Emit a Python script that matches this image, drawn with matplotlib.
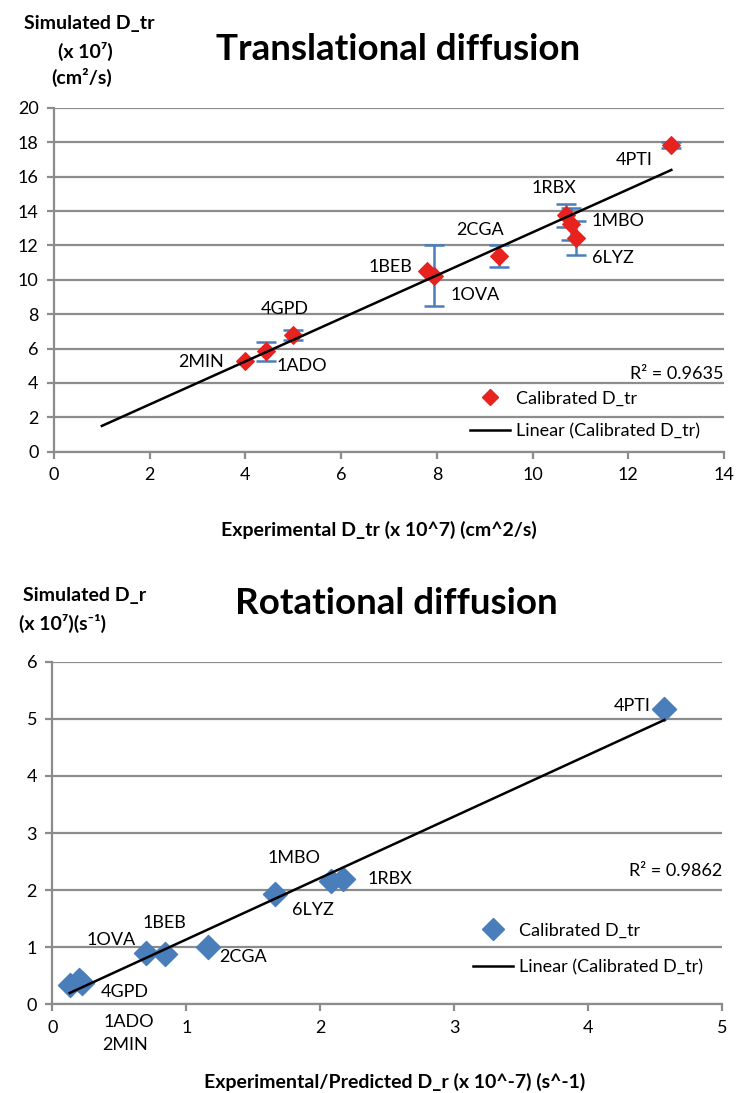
import matplotlib.pyplot as plt
import numpy as np
from matplotlib.lines import Line2D

plt.rcParams['font.family'] = ['Lato', 'DejaVu Sans']

W, H = 737, 1093

# protein ids, same order in both panels
names = ["2MIN", "1ADO", "4GPD", "1BEB", "1OVA", "2CGA", "1RBX", "1MBO", "6LYZ", "4PTI"]

# translational diffusion (x 10^7 cm^2/s)
tr_exp = [4.0, 4.43, 5.0, 7.8, 7.95, 9.3, 10.7, 10.8, 10.9, 12.9]
tr_sim = [5.25, 5.85, 6.8, 10.5, 10.25, 11.4, 13.75, 13.25, 12.45, 17.85]
tr_err = [0.0, 0.55, 0.3, 0.0, 1.75, 0.65, 0.65, 0.95, 1.0, 0.2]
tr_r2 = "R\u00b2 = 0.9635"

# rotational diffusion (x 10^7 1/s)
rot_exp = [0.22, 0.2, 0.13, 0.84, 0.70, 1.16, 2.17, 2.08, 1.66, 4.57]
rot_sim = [0.38, 0.42, 0.33, 0.88, 0.89, 1.01, 2.20, 2.16, 1.93, 5.17]
rot_r2 = "R\u00b2 = 0.9862"

# label placement (pixel offsets from the point, horizontal alignment)
tr_lab = {"2MIN": (-21, -1, "right"), "1ADO": (11, -15, "left"), "4GPD": (-9, 26, "center"),
          "1BEB": (-15, 4, "right"), "1OVA": (16, -19, "left"), "2CGA": (-19, 26, "center"),
          "1RBX": (-12, 27, "center"), "1MBO": (21, 3, "left"), "6LYZ": (16, -20, "left"),
          "4PTI": (-19, -15, "right")}
rot_lab = {"4PTI": (-14, 3, "right"), "1MBO": (-37, 23, "center"), "1RBX": (25, 0, "left"),
           "6LYZ": (17, -16, "left"), "2CGA": (12, -10, "left"), "1BEB": (0, 31, "center"),
           "1OVA": (-35, 13, "center"), "4GPD": (31, -7, "left"), "1ADO": (24, -42, "left"),
           "2MIN": (20, -62, "left")}

GRID = "#8c8c8c"
RED = "#e8221e"
BLUE = "#4a7ebb"


def px_axes(fig, left, right, top, bottom):
    return fig.add_axes([left / W, 1 - bottom / H, (right - left) / W, (bottom - top) / H])


def ftext(fig, x, y, s, **kw):
    fig.text(x / W, 1 - y / H, s, **kw)


def style(ax, xlim, ylim, xticks, yticks):
    ax.set_xlim(*xlim)
    ax.set_ylim(*ylim)
    ax.set_xticks(xticks)
    ax.set_yticks(yticks)
    for s in ["top", "right"]:
        ax.spines[s].set_visible(False)
    for s in ["left", "bottom"]:
        ax.spines[s].set_color(GRID)
        ax.spines[s].set_linewidth(1.6)
    ax.grid(True, axis="y", color=GRID, linewidth=1.6)
    ax.set_axisbelow(True)
    ax.tick_params(direction="out", length=5, width=1.6, color=GRID, labelsize=13, pad=6)
    ax.patch.set_alpha(0)


fig = plt.figure(figsize=(W / 100, H / 100), dpi=100)
bold = dict(ha="center", va="center", fontsize=14, fontweight="bold")

# ---- translational
ax = px_axes(fig, 54, 724, 108, 451.7)
style(ax, (0, 14), (0, 20), range(0, 15, 2), range(0, 21, 2))
x = np.array(tr_exp)
y = np.array(tr_sim)
e = np.array(tr_err)
m = e > 0
ax.errorbar(x[m], y[m], yerr=e[m], fmt="none", ecolor=BLUE, elinewidth=1.8,
            capsize=7, capthick=1.8, zorder=3)
ax.scatter(x, y, marker="D", s=80, color=RED, zorder=4)
k, b = np.polyfit(x, y, 1)
xs = np.array([x.min() - 3, x.max()])
ax.plot(xs, k * xs + b, color="black", linewidth=1.8, zorder=5)
for n, xi, yi in zip(names, x, y):
    dx, dy, ha = tr_lab[n]
    ax.annotate(n, (xi, yi), xytext=(dx, dy), textcoords="offset pixels",
                ha=ha, va="center", fontsize=13)
ax.text(1.0, 0.226, tr_r2, transform=ax.transAxes, ha="right", va="center", fontsize=13)
h1 = Line2D([], [], marker="D", linestyle="none", color=RED, markersize=8)
h2 = Line2D([], [], color="black", linewidth=1.8)
ax.legend([h1, h2], ["Calibrated D_tr", "Linear (Calibrated D_tr)"], frameon=False,
          loc="center left", bbox_to_anchor=(470 / W, 1 - 415 / H),
          bbox_transform=fig.transFigure, fontsize=13, borderpad=0, borderaxespad=0,
          handlelength=2.2, handletextpad=0.35, labelspacing=0.95)

ftext(fig, 398, 50, "Translational diffusion", ha="center", va="center",
      fontsize=26.5, fontweight="bold")
ftext(fig, 89, 23, "Simulated D_tr", **bold)
ftext(fig, 85, 51, "(x 10\u2077)", **bold)
ftext(fig, 82, 77, "(cm\u00b2/s)", **bold)
ftext(fig, 379, 530, "Experimental D_tr (x 10^7) (cm^2/s)", **bold)

# ---- rotational
ax2 = px_axes(fig, 52.3, 722, 661.7, 1004.3)
style(ax2, (0, 5), (0, 6), range(0, 6), range(0, 7))
x = np.array(rot_exp)
y = np.array(rot_sim)
ax2.scatter(x, y, marker="D", s=150, color=BLUE, zorder=4)
k, b = np.polyfit(x, y, 1)
xs = np.array([x.min(), x.max()])
ax2.plot(xs, k * xs + b, color="black", linewidth=1.8, zorder=5)
for n, xi, yi in zip(names, x, y):
    dx, dy, ha = rot_lab[n]
    ax2.annotate(n, (xi, yi), xytext=(dx, dy), textcoords="offset pixels",
                 ha=ha, va="center", fontsize=13)
ax2.text(1.0, 0.39, rot_r2, transform=ax2.transAxes, ha="right", va="center", fontsize=13)
h1 = Line2D([], [], marker="D", linestyle="none", color=BLUE, markersize=11)
ax2.legend([h1, h2], ["Calibrated D_tr", "Linear (Calibrated D_tr)"], frameon=False,
           loc="center left", bbox_to_anchor=(473 / W, 1 - 949 / H),
           bbox_transform=fig.transFigure, fontsize=13, borderpad=0, borderaxespad=0,
           handlelength=2.2, handletextpad=0.35, labelspacing=1.15)

ftext(fig, 396, 604, "Rotational diffusion", ha="center", va="center",
      fontsize=26.5, fontweight="bold")
ftext(fig, 85, 595, "Simulated D_r", **bold)
ftext(fig, 62, 623, "(x 10\u2077)(s\u207b\u00b9)", **bold)
ftext(fig, 395, 1082, "Experimental/Predicted D_r (x 10^-7) (s^-1)", **bold)

fig.savefig("out.png", dpi=100)
